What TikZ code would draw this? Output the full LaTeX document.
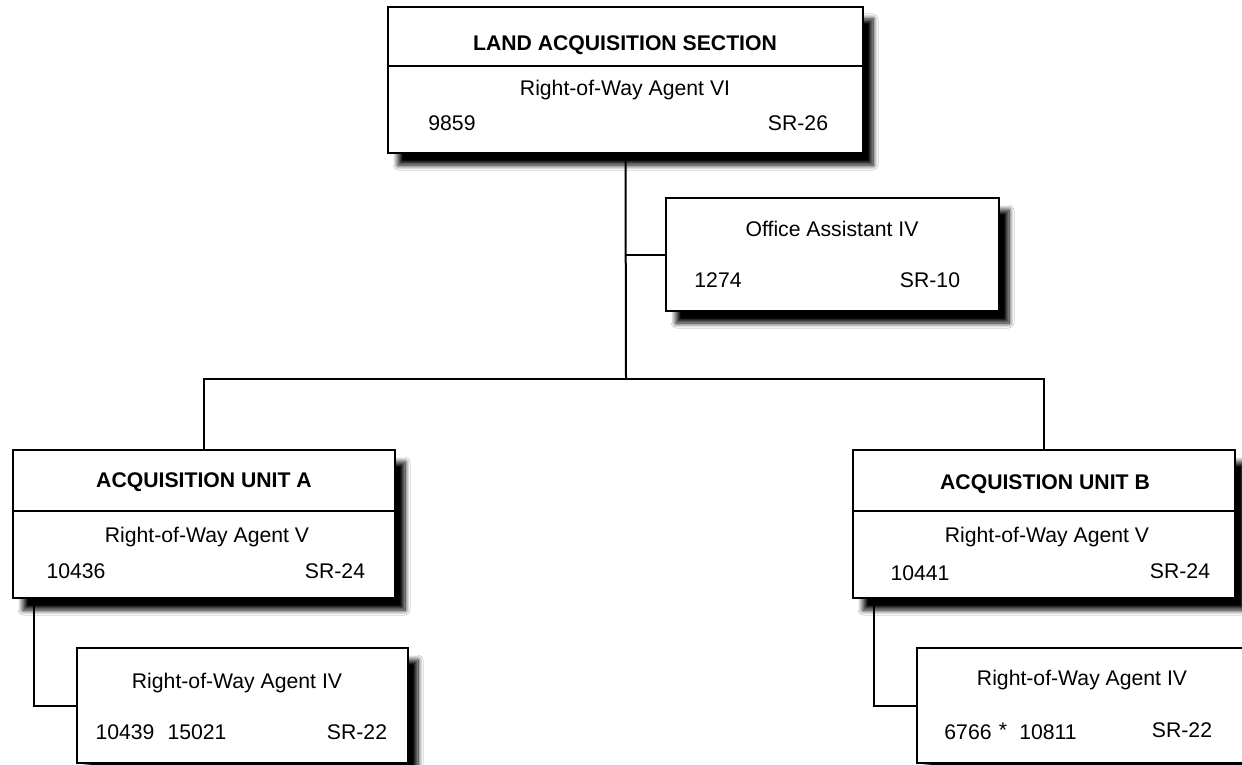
\documentclass[tikz,border=0pt]{standalone}
\usepackage{fontspec}
\setmainfont{Liberation Sans}
\usetikzlibrary{shadows.blur}
\tikzset{
  box/.style={draw=black, line width=1.3pt, fill=white, rectangle, inner sep=0pt,
    blur shadow={shadow xshift=5pt, shadow yshift=-6pt, shadow blur radius=2.5pt, shadow blur steps=10, shadow opacity=100, shadow blur extra rounding=0pt}},
  conn/.style={draw=black, line width=1pt},
  divline/.style={draw=black, line width=0.9pt},
  ttl/.style={inner sep=0pt, font=\fontsize{10.6}{12}\selectfont\bfseries},
  txt/.style={inner sep=0pt, font=\fontsize{10.6}{12}\selectfont},
}
\begin{document}
\begin{tikzpicture}[x=0.5pt, y=-0.5pt]
\clip (0,0) rectangle (1242,765);
\fill[white] (0,0) rectangle (1242,765);
% boxes
\node[box, minimum width=237.5pt, minimum height=73pt] (top) at (625.5,80) {};
\node[box, minimum width=166.5pt, minimum height=56.5pt] (office) at (832.5,254.5) {};
\node[box, minimum width=191pt, minimum height=74pt] (unitA) at (204,524) {};
\node[box, minimum width=191pt, minimum height=74pt] (unitB) at (1044,524) {};
\node[box, minimum width=165.5pt, minimum height=57.5pt] (subA) at (242.5,705.5) {};
\node[box, minimum width=166.5pt, minimum height=57.5pt] (subB) at (1083.5,705.5) {};
% dividers
\draw[divline] ([yshift=-30pt]top.north west) -- ([yshift=-30pt]top.north east);
\draw[divline] ([yshift=-31pt]unitA.north west) -- ([yshift=-31pt]unitA.north east);
\draw[divline] ([yshift=-31pt]unitB.north west) -- ([yshift=-31pt]unitB.north east);
% connectors
\coordinate (bus) at (626,379);
\draw[conn] (top.south) -- (bus);
\draw[conn] (top.south |- office.west) -- (office.west);
\draw[conn] (unitA.north) |- (bus) -| (unitB.north);
\draw[conn] ([xshift=11pt]unitA.south west) |- (subA.west);
\draw[conn] ([xshift=11pt]unitB.south west) |- (subB.west);
% texts: top
\node[ttl] (topT) at (625,45) {LAND ACQUISITION SECTION};
\node[txt] (topP) at (625,90) {Right-of-Way Agent VI};
\node[txt] (topN) at (452,123) {9859};
\node[txt] (topS) at (798,123) {SR-26};
% office
\node[txt] (offP) at (832,229) {Office Assistant IV};
\node[txt] (offN) at (718,280) {1274};
\node[txt] (offS) at (930,280) {SR-10};
% unit A
\node[ttl] (aT) at (204,482) {ACQUISITION UNIT A};
\node[txt] (aP) at (207,537) {Right-of-Way Agent V};
\node[txt] (aN) at (76,571) {10436};
\node[txt] (aS) at (335,571) {SR-24};
% unit B
\node[ttl] (bT) at (1045,484) {ACQUISTION UNIT B};
\node[txt] (bP) at (1047,537) {Right-of-Way Agent V};
\node[txt] (bN) at (920,573) {10441};
\node[txt] (bS) at (1180,571) {SR-24};
% sub A
\node[txt] (saP) at (237,683) {Right-of-Way Agent IV};
\node[txt] (saN1) at (125,732) {10439};
\node[txt] (saN2) at (197,732) {15021};
\node[txt] (saS) at (357,732) {SR-22};
% sub B
\node[txt] (sbP) at (1082,680) {Right-of-Way Agent IV};
\node[txt] (sbN1) at (968,732) {6766};
\node[txt] (sbStar) at (1003,730) {*};
\node[txt] (sbN2) at (1048,732) {10811};
\node[txt] (sbS) at (1182,730) {SR-22};
\end{tikzpicture}
\end{document}
